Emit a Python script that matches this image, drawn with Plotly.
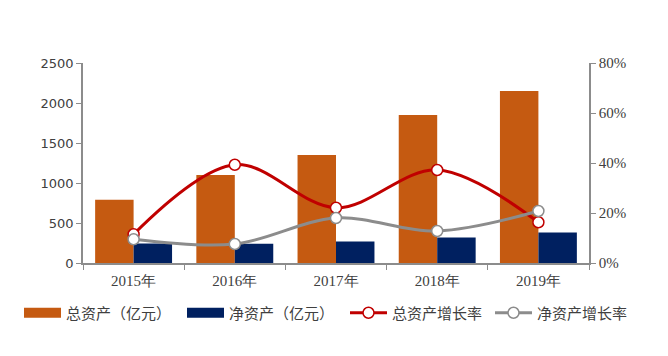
import plotly.graph_objects as go

years = ["2015年", "2016年", "2017年", "2018年", "2019年"]
total_assets = [790, 1100, 1350, 1850, 2150]
net_assets = [245, 240, 270, 320, 380]
total_growth = [0.115, 0.393, 0.221, 0.372, 0.163]
net_growth = [0.095, 0.076, 0.18, 0.128, 0.208]

names = ["总资产（亿元）", "净资产（亿元）", "总资产增长率", "净资产增长率"]
ORANGE, NAVY, RED, GRAY = "#C55A11", "#002060", "#C00000", "#8c8c8c"
AXIS = "#8c8c8c"
TXT = "#404040"

fig = go.Figure()
fig.add_trace(go.Bar(x=years, y=total_assets, name=names[0], showlegend=False,
                     marker=dict(color=ORANGE, line=dict(width=0))))
fig.add_trace(go.Bar(x=years, y=net_assets, name=names[1], showlegend=False,
                     marker=dict(color=NAVY, line=dict(width=0))))
# legend-only proxies giving wide rectangular swatches for the bars
fig.add_trace(go.Scatter(x=[None], y=[None], name=names[0], mode="lines",
                         line=dict(color=ORANGE, width=11), legend="legend"))
fig.add_trace(go.Scatter(x=[None], y=[None], name=names[1], mode="lines",
                         line=dict(color=NAVY, width=11), legend="legend2"))
fig.add_trace(go.Scatter(x=years, y=total_growth, name=names[2], yaxis="y2",
                         mode="lines+markers", legend="legend3",
                         line=dict(color=RED, width=3, shape="spline", smoothing=1.0),
                         marker=dict(size=11, color="white", line=dict(color=RED, width=1.5))))
fig.add_trace(go.Scatter(x=years, y=net_growth, name=names[3], yaxis="y2",
                         mode="lines+markers", legend="legend4",
                         line=dict(color=GRAY, width=3, shape="spline", smoothing=1.0),
                         marker=dict(size=11, color="white", line=dict(color=GRAY, width=1.5))))

W, H = 660, 348
leg_x = [11, 174, 337, 482]
leg_common = dict(orientation="h", xref="container", yref="container",
                  y=0.1236, xanchor="left", yanchor="middle", itemwidth=37,
                  bgcolor="rgba(0,0,0,0)",
                  font=dict(family="Noto Sans CJK SC", size=15, color=TXT))

fig.update_layout(
    width=W, height=H,
    margin=dict(l=75, r=79, t=55, b=93, autoexpand=False),
    paper_bgcolor="white", plot_bgcolor="white",
    barmode="group", bargap=0.24, bargroupgap=0,
    showlegend=True,
    legend=dict(x=leg_x[0] / W, **leg_common),
    legend2=dict(x=leg_x[1] / W, **leg_common),
    legend3=dict(x=leg_x[2] / W, **leg_common),
    legend4=dict(x=leg_x[3] / W, **leg_common),
    xaxis=dict(showline=True, linecolor=AXIS, linewidth=1.5, ticks="outside",
               tickson="boundaries", ticklen=5, tickcolor=AXIS, showgrid=False,
               ticklabelstandoff=3,
               tickfont=dict(family="Liberation Serif", size=15, color=TXT),
               range=[-0.5, 4.5]),
    yaxis=dict(range=[0, 2500], dtick=500, showline=True, linecolor=AXIS, linewidth=1.5,
               ticks="outside", ticklen=5, tickcolor=AXIS, showgrid=False, zeroline=False,
               tickfont=dict(family="DejaVu Sans", size=13, color=TXT)),
    yaxis2=dict(range=[0, 0.8], dtick=0.2, tickformat=".0%", overlaying="y", side="right",
                showline=True, linecolor=AXIS, linewidth=1.5, ticks="outside", ticklen=5,
                tickcolor=AXIS, showgrid=False, zeroline=False,
                tickfont=dict(family="Liberation Serif", size=15, color=TXT)),
)

fig.write_html("out.html")
